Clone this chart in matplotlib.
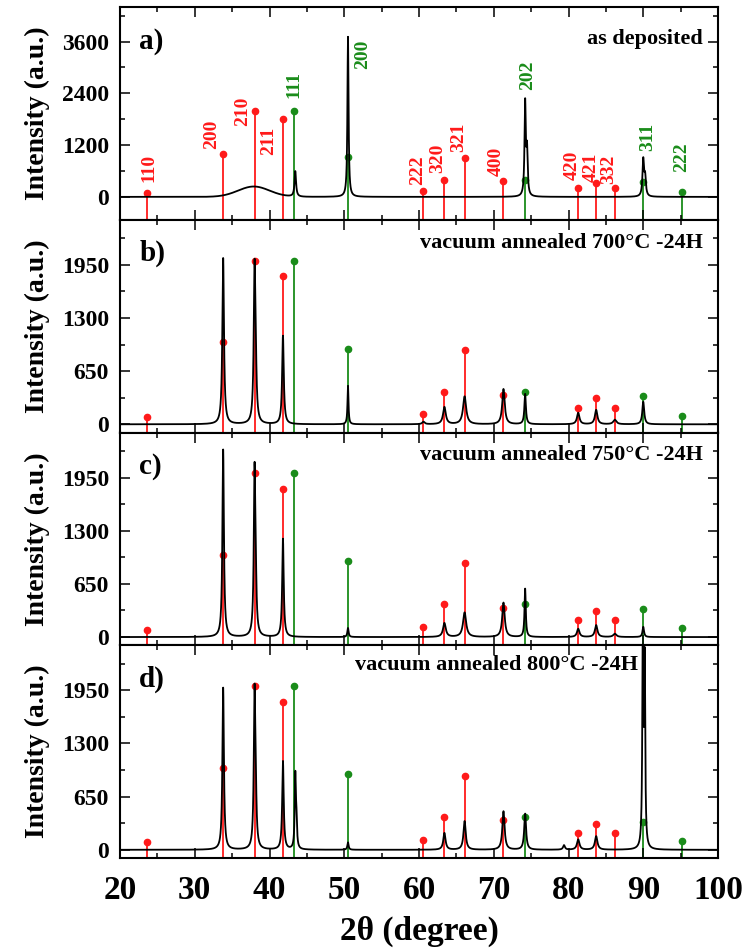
import numpy as np
import matplotlib
matplotlib.use("Agg")
import matplotlib.pyplot as plt
from matplotlib.ticker import MultipleLocator

plt.rcParams['font.family'] = ['Liberation Serif', 'DejaVu Serif']
plt.rcParams['font.weight'] = 'bold'

# reference sticks (phase 1 red, phase 2 green)
red_pos = [23.6, 33.8, 38.0, 41.8, 60.6, 63.4, 66.1, 71.3, 81.3, 83.7, 86.2]
red_h = [90, 1000, 2000, 1810, 125, 400, 905, 360, 205, 320, 205]
red_hkl = ['110', '200', '210', '211', '222', '320', '321', '400', '420', '421', '332']
green_pos = [43.3, 50.45, 74.15, 90.0, 95.2]
green_h = [2000, 925, 400, 340, 105]
green_hkl = ['111', '200', '202', '311', '222']

# measured peaks per pattern: position, height, half width
a_pos = [43.45, 50.5, 74.2, 74.45, 90.0, 90.25]
a_h = [590, 3710, 2150, 1000, 840, 430]
a_w = [0.12, 0.09, 0.1, 0.1, 0.12, 0.12]
a_hump = (37.9, 240, 2.1)  # amorphous hump: centre, height, sigma

b_pos = [33.8, 38.0, 38.15, 41.8, 50.5, 60.6, 63.4, 66.1, 71.3, 74.2, 81.3, 83.7, 86.2, 90.0]
b_h = [2030, 1800, 500, 1080, 470, 30, 210, 340, 430, 370, 140, 175, 55, 275]
b_w = [0.13, 0.13, 0.13, 0.13, 0.08, 0.2, 0.22, 0.25, 0.2, 0.12, 0.2, 0.2, 0.25, 0.15]

c_pos = [33.8, 38.0, 38.15, 41.8, 50.5, 63.4, 66.1, 71.3, 74.2, 81.3, 83.7, 86.2, 90.0]
c_h = [2290, 1940, 500, 1200, 110, 170, 300, 420, 590, 100, 145, 40, 125]
c_w = [0.12, 0.12, 0.12, 0.12, 0.1, 0.22, 0.25, 0.2, 0.1, 0.2, 0.2, 0.25, 0.12]

d_pos = [33.8, 38.0, 38.15, 41.8, 43.45, 43.6, 50.5, 63.4, 66.1, 71.3, 74.2, 79.4, 81.3, 83.7, 89.95, 90.2]
d_h = [1980, 1830, 500, 1080, 880, 300, 90, 205, 350, 470, 440, 55, 125, 165, 3000, 2200]
d_w = [0.12, 0.12, 0.12, 0.12, 0.09, 0.09, 0.1, 0.18, 0.18, 0.18, 0.15, 0.15, 0.2, 0.2, 0.08, 0.08]

titles = ['as deposited', 'vacuum annealed 700°C -24H',
          'vacuum annealed 750°C -24H', 'vacuum annealed 800°C -24H']
letters = ['a)', 'b)', 'c)', 'd)']

# hkl label anchors in panel a (x centre, bottom y)
lab_red = [(23.9, 355), (32.3, 1110), (36.45, 1650), (39.9, 975), (59.8, 280),
           (62.5, 555), (65.35, 1045), (70.4, 490), (80.5, 395), (83.0, 350), (85.4, 300)]
lab_green = [(43.3, 2300), (52.45, 2970), (74.55, 2480), (90.6, 1065), (95.2, 565)]

two_theta = np.arange(20, 100.001, 0.01)


def pattern(pos, h, w):
    y = np.zeros_like(two_theta)
    for p, hh, ww in zip(pos, h, w):
        y += hh * ww**2 / ((two_theta - p)**2 + ww**2)
    return y


ya = pattern(a_pos, a_h, a_w)
ya += a_hump[1] * np.exp(-0.5 * ((two_theta - a_hump[0]) / a_hump[2])**2)
curves = [ya, pattern(b_pos, b_h, b_w), pattern(c_pos, c_h, c_w), pattern(d_pos, d_h, d_w)]

fig = plt.figure(figsize=(7.51, 9.51), dpi=100)
gs = fig.add_gridspec(4, 1, left=120/751, right=718/751, bottom=1-858/951,
                      top=1-7/951, hspace=0)
axes = [fig.add_subplot(gs[i]) for i in range(4)]

for i, ax in enumerate(axes):
    if i == 0:
        ylo, yhi = -530, 4400
        ax.yaxis.set_major_locator(MultipleLocator(1200))
        ax.yaxis.set_minor_locator(MultipleLocator(600))
    else:
        ylo, yhi = -100, 2500
        ax.yaxis.set_major_locator(MultipleLocator(650))
        ax.yaxis.set_minor_locator(MultipleLocator(325))
    ax.set_ylim(ylo, yhi)
    ax.set_xlim(20, 100)
    ax.xaxis.set_major_locator(MultipleLocator(10))
    ax.xaxis.set_minor_locator(MultipleLocator(5))

    ax.vlines(red_pos, ylo, red_h, color='#ff1a1a', lw=1.3, zorder=1)
    ax.plot(red_pos, red_h, 'o', color='#ff1a1a', ms=4.5, zorder=1)
    ax.vlines(green_pos, ylo, green_h, color='#1a8c1a', lw=1.3, zorder=1)
    ax.plot(green_pos, green_h, 'o', color='#1a8c1a', ms=4.5, zorder=1)

    ax.plot(two_theta, curves[i], color='black', lw=1.3, zorder=2)

    ax.tick_params(which='both', direction='in', top=True, right=True, width=1.1)
    ax.tick_params(which='major', length=7)
    ax.tick_params(which='minor', length=3.5)
    ax.tick_params(axis='y', labelsize=17, pad=8)
    ax.tick_params(axis='x', labelsize=24, pad=12)
    for lab in ax.get_xticklabels() + ax.get_yticklabels():
        lab.set_fontweight('bold')
    for sp in ax.spines.values():
        sp.set_linewidth(1.5)
    if i < 3:
        ax.tick_params(axis='x', labelbottom=False)

    ax.set_ylabel('Intensity (a.u.)', fontsize=20, fontweight='bold')
    ax.yaxis.set_label_coords(-0.117, 0.5)
    ax.text(0.032, 0.84, letters[i], transform=ax.transAxes, fontsize=21,
            fontweight='bold', va='center', ha='left')

    if i == 0:
        ax.text(0.974, 0.85, titles[i], transform=ax.transAxes, fontsize=16,
                fontweight='bold', ha='right', va='center')
    elif i == 3:
        ax.text(0.866, 0.905, titles[i], transform=ax.transAxes, fontsize=16,
                fontweight='bold', ha='right', va='center')
    else:
        ax.text(0.974, 0.892, titles[i], transform=ax.transAxes, fontsize=16,
                fontweight='bold', ha='right', va='center')

ax = axes[0]
for (x, y), t in zip(lab_red, red_hkl):
    ax.text(x, y, t, rotation=90, color='#ff1a1a', fontsize=14, fontweight='bold',
            ha='center', va='bottom')
for (x, y), t in zip(lab_green, green_hkl):
    ax.text(x, y, t, rotation=90, color='#1a8c1a', fontsize=14, fontweight='bold',
            ha='center', va='bottom')

axes[3].set_xlabel('2θ (degree)', fontsize=24, fontweight='bold')
axes[3].xaxis.set_label_coords(0.5, -0.27)

fig.savefig('out.png', dpi=100)
